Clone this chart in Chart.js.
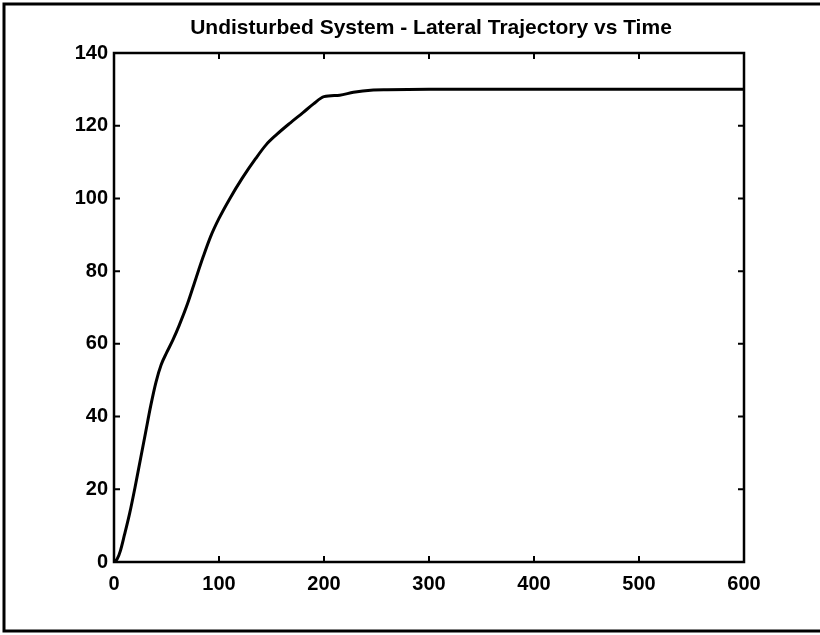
<!DOCTYPE html>
<html>
<head>
<meta charset="utf-8">
<script src="https://cdn.jsdelivr.net/npm/chart.js@4/dist/chart.umd.min.js"></script>
<style>
  html, body { margin: 0; padding: 0; background: #fff; }
  #wrap { width: 820px; height: 635px; position: relative; }
</style>
</head>
<body>
<div id="wrap"><canvas id="chart"></canvas></div>
<script>
// time (s) and lateral position
const timeValues = [0, 3, 6, 10, 15, 20, 25, 30, 35, 40, 45, 50, 56, 62, 70, 78, 85, 92, 100, 110,
  122, 135, 145, 155, 168, 180, 190, 200, 215, 228, 247, 260, 300, 600];
const lateralValues = [0, 0.8, 3, 7.5, 13.5, 20.5, 28, 35.5, 43, 49.5, 54.3, 57.5, 61, 65, 71, 78, 84, 89.5, 94.5, 99.8,
  105.5, 111, 114.8, 117.6, 120.8, 123.6, 126, 128, 128.4, 129.2, 129.8, 129.9, 130, 130];
const xTicks = [0, 100, 200, 300, 400, 500, 600];
const yTicks = [0, 20, 40, 60, 80, 100, 120, 140];
const titleText = 'Undisturbed System - Lateral Trajectory vs Time';

const points = timeValues.map((t, i) => ({ x: t, y: lateralValues[i] }));
const labelFont = { family: '"Liberation Sans", Arial, sans-serif', size: 20, weight: 'bold' };

// outer frame, box round the plot, inward ticks on all four sides, title
const framePlugin = {
  id: 'frame',
  beforeDraw(chart) {
    const c = chart.ctx;
    c.save();
    c.fillStyle = '#fff';
    c.fillRect(0, 0, chart.width, chart.height);
    c.strokeStyle = '#000';
    c.lineWidth = 3;
    c.strokeRect(4, 4, chart.width + 20, 627);
    c.restore();
  },
  afterDraw(chart) {
    const c = chart.ctx;
    const a = chart.chartArea;
    const xs = chart.scales.x;
    const ys = chart.scales.y;
    const len = 6;
    c.save();
    c.strokeStyle = '#000';
    c.lineWidth = 2.5;
    c.strokeRect(a.left, a.top, a.right - a.left, a.bottom - a.top);
    c.lineWidth = 2;
    c.beginPath();
    xTicks.forEach(v => {
      const px = xs.getPixelForValue(v);
      c.moveTo(px, a.bottom); c.lineTo(px, a.bottom - len);
      c.moveTo(px, a.top); c.lineTo(px, a.top + len);
    });
    yTicks.forEach(v => {
      const py = ys.getPixelForValue(v);
      c.moveTo(a.left, py); c.lineTo(a.left + len, py);
      c.moveTo(a.right, py); c.lineTo(a.right - len, py);
    });
    c.stroke();
    c.fillStyle = '#000';
    c.font = 'bold 21px "Liberation Sans", Arial, sans-serif';
    c.textAlign = 'center';
    c.textBaseline = 'middle';
    c.fillText(titleText, (a.left + a.right) / 2 + 2, 28);
    c.restore();
  }
};

new Chart(document.getElementById('chart'), {
  type: 'line',
  data: {
    datasets: [{
      data: points,
      borderColor: '#000',
      borderWidth: 3,
      pointRadius: 0,
      fill: false,
      cubicInterpolationMode: 'monotone'
    }]
  },
  options: {
    responsive: true,
    maintainAspectRatio: false,
    animation: false,
    layout: { padding: { left: 0, right: 76, top: 53, bottom: 0 } },
    plugins: { legend: { display: false }, tooltip: { enabled: false } },
    scales: {
      x: {
        type: 'linear',
        min: 0,
        max: 600,
        afterBuildTicks: s => { s.ticks = xTicks.map(v => ({ value: v })); },
        afterFit: s => { s.height = 73; },
        grid: { display: false, drawTicks: false },
        border: { display: false },
        ticks: { color: '#000', padding: 10, maxRotation: 0, font: labelFont }
      },
      y: {
        min: 0,
        max: 140,
        afterBuildTicks: s => { s.ticks = yTicks.map(v => ({ value: v })); },
        afterFit: s => { s.width = 114; },
        grid: { display: false, drawTicks: false },
        border: { display: false },
        ticks: { color: '#000', padding: 6, font: labelFont }
      }
    }
  },
  plugins: [framePlugin]
});
</script>
</body>
</html>
